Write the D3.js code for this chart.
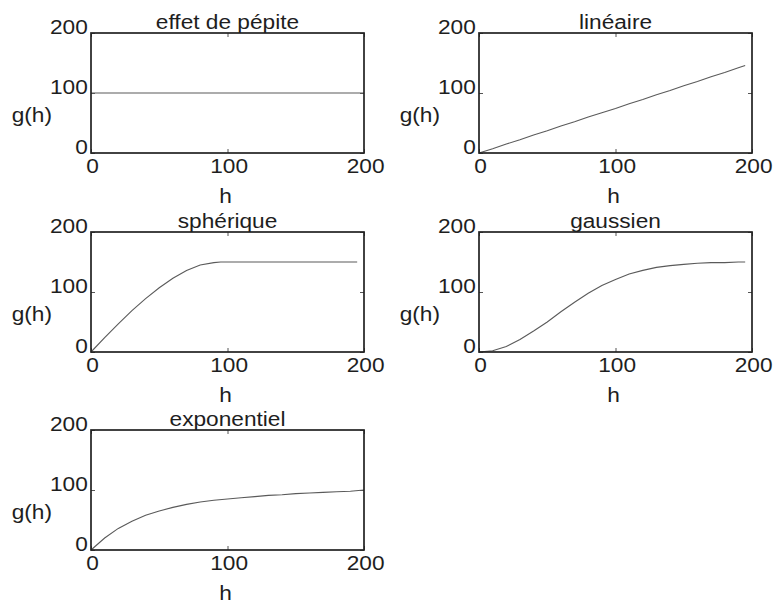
<!DOCTYPE html>
<html><head><meta charset="utf-8">
<script src="https://cdn.jsdelivr.net/npm/d3@7"></script>
<style>
body{margin:0;background:#fff}
svg{display:block}
text{font-family:"Liberation Sans",Arial,Helvetica,sans-serif;font-size:21px;fill:#1e1e1e}
</style>
</head><body>
<svg width="774" height="610"></svg>
<script>
// ---- data ----
const titles = ["effet de pépite", "linéaire", "sphérique", "gaussien", "exponentiel"];
const xTicks = [0, 100, 200];
const yTicks = [0, 100, 200];
const xLabel = "h";
const yLabel = "g(h)";

const hNugget = [0, 200];
const gNugget = [100, 100];

const hLinear = [0, 10, 20, 30, 40, 50, 60, 70, 80, 90, 100, 110, 120, 130, 140, 150, 160, 170, 180, 190, 195];
const gLinear = [0, 7, 15, 22, 30, 37, 45, 52, 60, 67, 74, 82, 89, 97, 104, 112, 119, 127, 134, 142, 146];

const hSpherical = [0, 10, 20, 30, 40, 50, 60, 70, 80, 90, 95, 120, 150, 180, 195];
const gSpherical = [0, 24, 47, 69, 89, 107, 123, 136, 145, 149, 150, 150, 150, 150, 150];

const hGaussian = [0, 10, 20, 30, 40, 50, 60, 70, 80, 90, 100, 110, 120, 130, 140, 150, 160, 170, 180, 190, 195];
const gGaussian = [0, 2, 9, 21, 35, 50, 67, 83, 98, 111, 121, 130, 136, 141, 144, 146, 148, 149, 149, 150, 150];

const hExponential = [0, 10, 20, 30, 40, 50, 60, 70, 80, 90, 100, 110, 120, 130, 140, 150, 160, 170, 180, 190, 200];
const gExponential = [0, 20, 36, 48, 58, 65, 71, 76, 80, 83, 85, 87, 89, 91, 92, 94, 95, 96, 97, 98, 100];

const seriesH = [hNugget, hLinear, hSpherical, hGaussian, hExponential];
const seriesG = [gNugget, gLinear, gSpherical, gGaussian, gExponential];

// ---- layout ----
const colLeft = [91, 479];
const rowTop = [33, 232, 430];
const pw = 273, ph = 120;
const stretch = "scale(1.08,1)";

const svg = d3.select("svg");

titles.forEach((title, i) => {
  const col = i % 2, row = Math.floor(i / 2);
  const left = colLeft[col], top = rowTop[row];
  const x = d3.scaleLinear().domain([0, 200]).range([0, pw]);
  const y = d3.scaleLinear().domain([0, 200]).range([ph, 0]);
  const g = svg.append("g").attr("transform", `translate(${left},${top})`);

  // inward ticks on all sides
  const axB = g.append("g").attr("transform", `translate(0,${ph})`)
    .call(d3.axisBottom(x).tickValues(xTicks).tickSize(-4).tickPadding(0).tickFormat(d3.format("d")));
  const axT = g.append("g")
    .call(d3.axisTop(x).tickValues(xTicks).tickSize(-4).tickFormat(""));
  const axL = g.append("g")
    .call(d3.axisLeft(y).tickValues(yTicks).tickSize(-4).tickFormat(d3.format("d")));
  const axR = g.append("g").attr("transform", `translate(${pw},0)`)
    .call(d3.axisRight(y).tickValues(yTicks).tickSize(-4).tickFormat(""));
  [axB, axT, axL, axR].forEach(a => {
    a.select(".domain").remove();
    a.selectAll("line").attr("stroke", "#555").attr("stroke-width", 1);
    a.attr("font-size", null).attr("font-family", null);
  });
  axB.selectAll("text").attr("y", 20).attr("dy", null).attr("x", 1)
    .attr("transform", stretch).style("font-size", "21px").attr("fill", "#1e1e1e");
  axL.selectAll("text").attr("x", -3).attr("dy", null)
    .attr("transform", stretch).style("font-size", "21px").attr("fill", "#1e1e1e");

  // data line
  const line = d3.line().x(d => x(d[0])).y(d => y(d[1]));
  const pts = seriesH[i].map((h, k) => [h, seriesG[i][k]]);
  g.append("path").datum(pts).attr("d", line)
    .attr("fill", "none").attr("stroke", "#5a5a5a").attr("stroke-width", 1.1);

  // box
  g.append("rect").attr("x", 0).attr("y", 0).attr("width", pw).attr("height", ph)
    .attr("fill", "none").attr("stroke", "#222").attr("stroke-width", 1.7);

  // title
  g.append("text").attr("text-anchor", "middle")
    .attr("transform", `translate(${pw / 2},-4) ${stretch}`).text(title);
  // x label
  g.append("text").attr("text-anchor", "middle")
    .attr("transform", `translate(${pw / 2 - 2},${ph + 50}) ${stretch}`).text(xLabel);
  // y label
  g.append("text").attr("text-anchor", "end")
    .attr("transform", `translate(-39,${ph - 31}) ${stretch}`).text(yLabel);
});
</script>
</body></html>
